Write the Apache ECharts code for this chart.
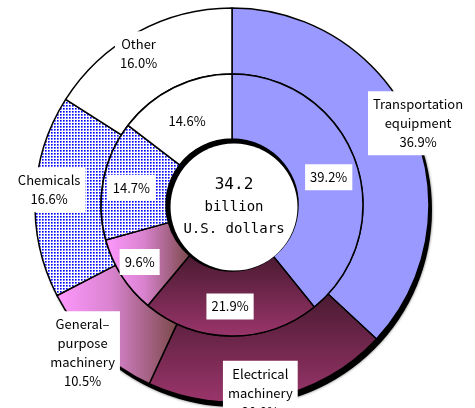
<!DOCTYPE html>
<html>
<head>
<meta charset="utf-8">
<script src="https://cdn.jsdelivr.net/npm/echarts@6/dist/echarts.min.js"></script>
<style>
    html, body { margin: 0; padding: 0; background: #fff; }
    #donut { width: 475px; height: 408px; }
</style>
</head>
<body>
<div id="donut"></div>
<script>
// categories (outer ring = one year, inner ring = the other)
var categories = ['Transportation\nequipment', 'Electrical\nmachinery', 'General\u2013\npurpose\nmachinery', 'Chemicals', 'Other'];
var outerShare = [36.9, 20.0, 10.5, 16.6, 16.0];
var innerShare = [39.2, 21.9, 9.6, 14.7, 14.6];
var totalValue = '34.2';
var totalUnit = ['billion', 'U.S. dollars'];

var chart = echarts.init(document.getElementById('donut'));

// dotted fill for chemicals
var tile = document.createElement('canvas');
tile.width = 3;
tile.height = 3;
var tctx = tile.getContext('2d');
tctx.fillStyle = '#fff';
tctx.fillRect(0, 0, 3, 3);
tctx.fillStyle = '#0000ff';
tctx.fillRect(0, 0, 1, 1);
tctx.fillStyle = '#5c5cff';
tctx.fillRect(1, 0, 1, 1);
tctx.fillRect(0, 1, 1, 1);
tctx.fillStyle = '#9a9aff';
tctx.fillRect(1, 1, 1, 1);

var fills = [
    '#9999ff',
    { type: 'linear', x: 0, y: 0, x2: 0, y2: 1, colorStops: [{ offset: 0, color: '#4a1a31' }, { offset: 1, color: '#9a356b' }] },
    { type: 'linear', x: 0, y: 0, x2: 1, y2: 0, colorStops: [{ offset: 0, color: '#ff99ff' }, { offset: 0.45, color: '#d983cf' }, { offset: 1, color: '#7a4848' }] },
    { image: tile, repeat: 'repeat' },
    '#ffffff'
];

var font = '"Noto Sans CJK JP", "Liberation Sans", sans-serif';
var outerNudge = [[33, -15], [-4, 24], [-34, 27], [-16, -8], [-13, -5]];
var innerNudge = [[1, 6], [-1, 0], [-7, 2], [-1, 2], [0, 7]];

function ringData(values, withName) {
    return values.map(function (v, i) {
        return {
            name: categories[i],
            value: v,
            itemStyle: { color: fills[i] },
            label: {
                formatter: withName ? categories[i] + '\n' + v.toFixed(1) + '%' : v.toFixed(1) + '%'
            }
        };
    });
}

var labelBase = {
    show: true,
    position: 'inside',
    color: '#000',
    fontFamily: font,
    fontSize: 13,
    lineHeight: 19,
    backgroundColor: '#fff',
    padding: [4, 5, 3, 5]
};

chart.setOption({
    animation: false,
    series: [
        {   // drop shadow behind outer ring
            type: 'pie',
            silent: true,
            center: [235, 210],
            radius: [0, 197],
            label: { show: false },
            itemStyle: { color: '#000', shadowColor: 'rgba(0,0,0,0.6)', shadowBlur: 3 },
            data: [{ value: 1 }],
            z: 1
        },
        {
            type: 'pie',
            silent: true,
            center: [232, 205],
            radius: [131, 197],
            startAngle: 90,
            clockwise: true,
            itemStyle: { borderColor: '#000', borderWidth: 1.5 },
            label: labelBase,
            labelLine: { show: false },
            labelLayout: function (p) {
                return { dx: outerNudge[p.dataIndex][0], dy: outerNudge[p.dataIndex][1] };
            },
            data: ringData(outerShare, true),
            z: 2
        },
        {
            type: 'pie',
            silent: true,
            center: [232, 205],
            radius: [66, 131],
            startAngle: 90,
            clockwise: true,
            itemStyle: { borderColor: '#000', borderWidth: 1.5 },
            label: labelBase,
            labelLine: { show: false },
            labelLayout: function (p) {
                return { dx: innerNudge[p.dataIndex][0], dy: innerNudge[p.dataIndex][1] };
            },
            data: ringData(innerShare, false),
            z: 3
        },
        {   // hole rim
            type: 'pie',
            silent: true,
            center: [232, 205],
            radius: [0, 66],
            label: { show: false },
            itemStyle: { color: '#000' },
            data: [{ value: 1 }],
            z: 4
        },
        {   // hole with total
            type: 'pie',
            silent: true,
            center: [234, 207],
            radius: [0, 63.5],
            itemStyle: { color: '#fff' },
            label: {
                show: true,
                position: 'center',
                formatter: '{a|' + totalValue + '}\n{b|' + totalUnit[0] + '}\n{b|' + totalUnit[1] + '}',
                rich: {
                    a: { fontFamily: '"DejaVu Sans Mono", monospace', fontSize: 16, lineHeight: 23, color: '#000' },
                    b: { fontFamily: '"DejaVu Sans Mono", monospace', fontSize: 14, lineHeight: 22, color: '#000' }
                }
            },
            data: [{ value: 1 }],
            z: 5
        }
    ]
});
</script>
</body>
</html>
